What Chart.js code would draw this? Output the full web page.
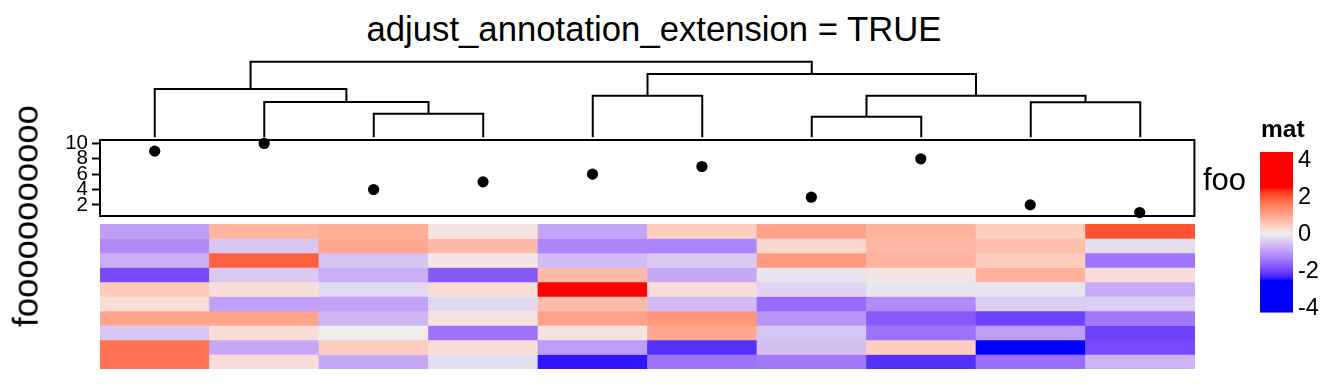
<!DOCTYPE html>
<html><head><meta charset="utf-8">
<script src="https://cdn.jsdelivr.net/npm/chart.js@4"></script>
<style>
html,body{margin:0;padding:0;background:#fff;}
#wrap{position:relative;width:1344px;height:384px;overflow:hidden;font-family:'Liberation Sans',Arial,sans-serif;background:#fff;}
canvas{position:absolute;}
.t{position:absolute;white-space:nowrap;line-height:1;color:#000;font-family:'Liberation Sans',Arial,sans-serif;}
</style></head><body><div id="wrap">
<canvas id="dend" width="1095" height="90" style="left:100px;top:50px"></canvas>
<canvas id="anno" width="1200" height="140" style="left:0px;top:110px"></canvas>
<canvas id="heat" width="1095" height="145" style="left:100px;top:224px"></canvas>
<canvas id="leg" width="89" height="240" style="left:1255px;top:100px"></canvas>
<div class="t" style="left:654px;top:11.6px;font-size:34.7px;transform:translateX(-50%);">adjust_annotation_extension = TRUE</div>
<div class="t" style="left:26.3px;top:216px;font-size:34.7px;transform:translate(-50%,-50%) rotate(-90deg);">fooooooooooo</div>
<div class="t" style="left:1203px;top:163.8px;font-size:31px;">foo</div>
<div class="t" style="left:1261px;top:117px;font-size:24.5px;font-weight:bold;">mat</div>
</div>
<script>
// ---------- data ----------
const columns = ['c1','c2','c3','c4','c5','c6','c7','c8','c9','c10'];
const fooValues = [9, 10, 4, 5, 6, 7, 3, 8, 2, 1];
const fooTicks = [2, 4, 6, 8, 10];
const legendTicks = [-4, -2, 0, 2, 4];

const row1  = [-0.93, 0.83, 0.93, 0.15, -0.85, 0.48, 1.08, 0.85, 0.48, 2.05];
const row2  = [-1.15, -0.45, 1.00, 0.75, -1.23, -1.23, 0.33, 0.78, 0.68, -0.20];
const row3  = [-0.75, 1.90, -0.50, 0.10, -0.58, -0.43, 1.20, 0.83, 0.48, -1.40];
const row4  = [-1.90, -0.43, -0.75, -1.75, 0.75, -0.80, -0.10, 0.10, 0.85, 0.25];
const row5  = [0.55, 0.23, -0.25, 0.23, 4.45, 0.23, -0.30, -0.10, -0.10, -0.78];
const row6  = [0.25, -0.90, -0.88, -0.25, 0.73, -0.60, -1.53, -1.15, -0.40, -0.38];
const row7  = [1.05, 1.05, -0.65, 0.15, 1.08, 1.25, -1.05, -1.75, -2.00, -1.38];
const row8  = [-0.45, 0.25, 0.03, -1.45, 0.15, 1.03, -0.48, -1.45, -0.93, -2.00];
const row9  = [1.70, -0.80, 0.48, 0.23, -0.95, -2.20, -0.53, 0.48, -4.25, -1.90];
const row10 = [1.70, 0.25, -0.80, -0.20, -2.40, -1.45, -1.38, -2.20, -1.50, -0.68];
const matRows = [row1, row2, row3, row4, row5, row6, row7, row8, row9, row10];

// column dendrogram (hclust style merges: negative = leaf, positive = earlier merge)
const mergeLeft   = [-7, -3, -9, -2, -5, 1, -1, 5, 7];
const mergeRight  = [-8, -4, -10, 2, -6, 3, 4, 6, 8];
const mergeHeight = [1.36, 1.56, 2.31, 2.33, 2.75, 2.75, 3.19, 4.19, 5.0];

const colorBreak = 2.5;

// ---------- colour mapping (LAB interpolation blue -> #EEEEEE -> red) ----------
function toLin(c){c/=255;return c<=0.04045?c/12.92:Math.pow((c+0.055)/1.055,2.4);}
function toS(c){c=c<=0.0031308?12.92*c:1.055*Math.pow(c,1/2.4)-0.055;return Math.round(Math.max(0,Math.min(1,c))*255);}
const Xn=0.95047,Yn=1,Zn=1.08883;
function f(t){return t>0.008856?Math.cbrt(t):7.787*t+16/116;}
function finv(t){const t3=t*t*t;return t3>0.008856?t3:(t-16/116)/7.787;}
function hexToLab(h){
  const r=toLin(parseInt(h.substr(1,2),16)),g=toLin(parseInt(h.substr(3,2),16)),b=toLin(parseInt(h.substr(5,2),16));
  const X=(0.4124*r+0.3576*g+0.1805*b)/Xn,Y=(0.2126*r+0.7152*g+0.0722*b)/Yn,Z=(0.0193*r+0.1192*g+0.9505*b)/Zn;
  const fx=f(X),fy=f(Y),fz=f(Z);
  return [116*fy-16,500*(fx-fy),200*(fy-fz)];
}
function labToRgb(L,a,b){
  const fy=(L+16)/116,fx=fy+a/500,fz=fy-b/200;
  const X=Xn*finv(fx),Y=Yn*finv(fy),Z=Zn*finv(fz);
  const r=3.2406*X-1.5372*Y-0.4986*Z,g=-0.9689*X+1.8758*Y+0.0415*Z,bb=0.0557*X-0.2040*Y+1.0570*Z;
  return 'rgb('+toS(r)+','+toS(g)+','+toS(bb)+')';
}
const LB=hexToLab('#0000FF'),LM=hexToLab('#EEEEEE'),LR=hexToLab('#FF0000');
function colorFor(v){
  let t=Math.max(-1,Math.min(1,v/colorBreak));
  const end=t<0?LB:LR;t=Math.abs(t);
  return labToRgb(LM[0]+(end[0]-LM[0])*t,LM[1]+(end[1]-LM[1])*t,LM[2]+(end[2]-LM[2])*t);
}

Chart.defaults.font.family="'Liberation Sans', Arial, sans-serif";
Chart.defaults.color='#000';
const base={responsive:false,animation:false,devicePixelRatio:1,
  plugins:{legend:{display:false},tooltip:{enabled:false}}};

// ---------- dendrogram ----------
const nodeX=[],nodeH=[];
function pos(id){return id<0?[-id,0]:[nodeX[id-1],nodeH[id-1]];}
const dendSets=[];
for(let i=0;i<mergeLeft.length;i++){
  const [xl,hl]=pos(mergeLeft[i]),[xr,hr]=pos(mergeRight[i]),h=mergeHeight[i];
  nodeX.push((xl+xr)/2);nodeH.push(h);
  dendSets.push({data:[{x:xl,y:hl},{x:xl,y:h},{x:xr,y:h},{x:xr,y:hr}],showLine:true,
    borderColor:'#000',borderWidth:2,pointRadius:0,tension:0,clip:false,borderJoinStyle:'miter'});
}
new Chart(document.getElementById('dend'),{type:'scatter',data:{datasets:dendSets},
  options:{...base,layout:{padding:{top:11.7,bottom:2.7,left:0,right:0}},
    scales:{x:{type:'linear',min:0.5,max:columns.length+0.5,display:false},
            y:{type:'linear',min:0,max:Math.max(...mergeHeight),display:false}}}});

// ---------- annotation points ----------
const boxPlugin={id:'box',afterDatasetsDraw(chart){const {ctx,chartArea:a}=chart;ctx.save();ctx.strokeStyle='#000';ctx.lineWidth=2;
  ctx.strokeRect(a.left,a.top,a.right-a.left,a.bottom-a.top);ctx.restore();}};
new Chart(document.getElementById('anno'),{type:'scatter',
  data:{datasets:[{data:fooValues.map((v,i)=>({x:i+1,y:v})),backgroundColor:'#000',borderWidth:0,pointRadius:5.6,clip:false}]},
  options:{...base,layout:{padding:{top:30,bottom:34,left:0,right:5}},
    scales:{x:{type:'linear',min:0.5,max:columns.length+0.5,display:false},
      y:{type:'linear',position:'left',min:0.55,max:10.45,afterFit(s){s.width=100;},
        afterBuildTicks(s){s.ticks=fooTicks.map(v=>({value:v}));},
        ticks:{color:'#000',font:{size:20.5},padding:4,autoSkip:false},
        grid:{drawOnChartArea:false,drawTicks:true,tickLength:8,tickColor:'#000',tickWidth:2},
        border:{display:false}}}},
  plugins:[boxPlugin]});

// ---------- heatmap ----------
const n=matRows.length;
const heatSets=matRows.map((row,i)=>({data:row.map(()=>[n-1-i,n-i]),backgroundColor:row.map(colorFor),
  borderWidth:0,grouped:false,categoryPercentage:1,barPercentage:1}));
new Chart(document.getElementById('heat'),{type:'bar',data:{labels:columns,datasets:heatSets},
  options:{...base,layout:{padding:0},scales:{x:{display:false},y:{min:0,max:n,display:false}}}});

// ---------- colour legend ----------
const allVals=[].concat(...matRows);
const lo=Math.min(...allVals),hi=Math.max(...allVals);
new Chart(document.getElementById('leg'),{type:'bar',
  data:{labels:['mat'],datasets:[{data:[[lo,hi]],borderWidth:0,categoryPercentage:1,barPercentage:1,inflateAmount:0,
    backgroundColor(c){const ch=c.chart;if(!ch.chartArea)return '#fff';const y=ch.scales.y;
      const g=ch.ctx.createLinearGradient(0,y.getPixelForValue(lo),0,y.getPixelForValue(hi));
      for(let k=0;k<=100;k++){g.addColorStop(k/100,colorFor(lo+(hi-lo)*k/100));}return g;}}]},
  options:{...base,layout:{padding:{top:51.7,bottom:27.3,left:5,right:0}},
    scales:{x:{display:false},
      y:{position:'right',min:lo,max:hi,z:1,afterFit(s){s.width=51;},
        afterBuildTicks(s){s.ticks=legendTicks.map(v=>({value:v}));},
        ticks:{color:'#000',font:{size:23.5},padding:5,autoSkip:false},
        grid:{drawTicks:false,color:'#ffffff',lineWidth:2},
        border:{display:false,dash:[7,19]}}}}});
</script></body></html>
